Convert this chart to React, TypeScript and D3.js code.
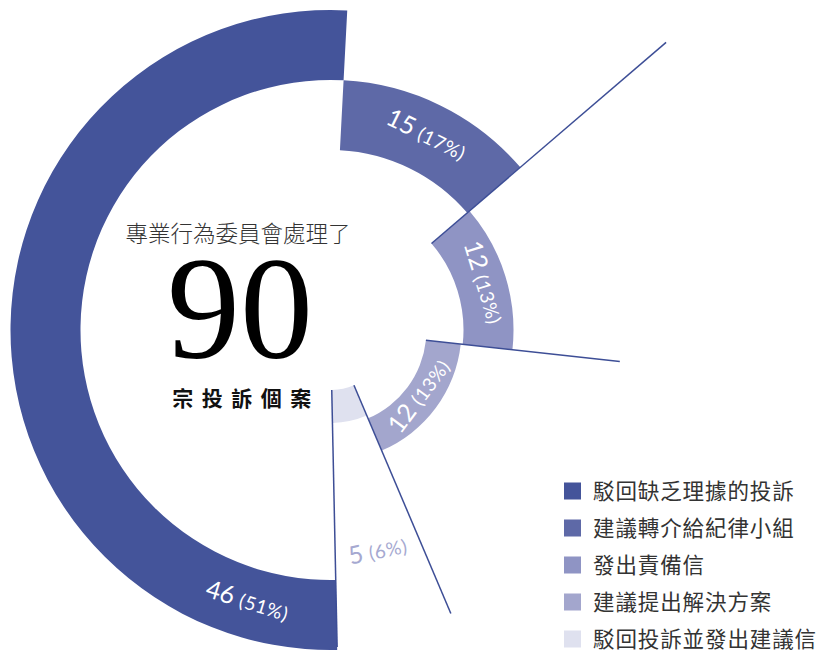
import React from "react";
import * as d3 from "d3";

// ---- data (clockwise from 12 o'clock) ----
const categories = [
  "建議轉介給紀律小組",
  "發出責備信",
  "建議提出解決方案",
  "駁回投訴並發出建議信",
  "駁回缺乏理據的投訴",
];
const counts = [15, 12, 12, 5, 46];
const percents = [17, 13, 13, 6, 51];
// angular sweep of each arc as drawn in the reference (degrees)
const arcSweepDeg = [46.4, 46.8, 60.8, 21.8, 184.2];
const colors = ["#5e69a7", "#8f94c4", "#a3a6cd", "#dfe1ef", "#44549a"];
const legendOrder = [4, 0, 1, 2, 3];
const totalLabel = "90";
const titleTop = "專業行為委員會處理了";
const titleBottom = "宗投訴個案";

// ---- layout ----
const W = 821;
const H = 653;
const CX = 330.5;
const CY = 330;
const START_DEG = 3;
const ringInner = [180, 133, 96, 60, 250];
const ringOuter = [250, 183, 131, 93, 320];
const sepOuter = [442, 291, 308, 317];
const labelFrac = [0.5, 0.5, 0.5, 0.5, 0.099];
const labelRadius = [215, 158, 113, 228, 286];
const labelColors = ["#ffffff", "#ffffff", "#ffffff", "#a6a9d1", "#ffffff"];
const lineColor = "#3d4e96";
const FONT = "Lato, 'Noto Sans', sans-serif";
const CJK = "'Noto Sans CJK TC', 'Noto Sans CJK SC', sans-serif";

export default function App() {
  const rad = Math.PI / 180;
  const pie = d3
    .pie<number>()
    .sort(null)
    .value((d) => d)
    .startAngle(START_DEG * rad)
    .endAngle(START_DEG * rad + 2 * Math.PI);
  const arcs = pie(arcSweepDeg);
  const arcGen = d3.arc<any>();

  const polar = (r: number, a: number) => [r * Math.sin(a), -r * Math.cos(a)];

  return (
    <svg
      width={W}
      height={H}
      style={{ position: "absolute", left: 0, top: 0, background: "#fff" }}
    >
      <g transform={`translate(${CX},${CY})`}>
        {arcs.map((a, i) => (
          <path
            key={i}
            d={
              arcGen({
                innerRadius: ringInner[i],
                outerRadius: ringOuter[i],
                startAngle: a.startAngle,
                endAngle: a.endAngle,
              }) as string
            }
            fill={colors[i]}
          />
        ))}
        {arcs.slice(0, 4).map((a, i) => {
          const r0 = Math.min(ringInner[i], ringInner[i + 1]);
          const [x1, y1] = polar(r0, a.endAngle);
          const [x2, y2] = polar(sepOuter[i], a.endAngle);
          return (
            <line
              key={i}
              x1={x1}
              y1={y1}
              x2={x2}
              y2={y2}
              stroke={lineColor}
              strokeWidth={1.5}
            />
          );
        })}
        {arcs.map((a, i) => {
          const ang = a.startAngle + (a.endAngle - a.startAngle) * labelFrac[i];
          const [x, y] = polar(labelRadius[i], ang);
          let deg = (ang / rad) % 360;
          const rot = deg < 90 || deg >= 270 ? deg : deg - 180;
          return (
            <text
              key={i}
              transform={`translate(${x},${y}) rotate(${rot})`}
              textAnchor="middle"
              dy="0.35em"
              fill={labelColors[i]}
              fontFamily={FONT}
            >
              <tspan fontSize={25}>{counts[i]}</tspan>
              <tspan fontSize={19} dx={6} letterSpacing={0.6}>
                ({percents[i]}%)
              </tspan>
            </text>
          );
        })}
      </g>

      <text
        x={238}
        y={242}
        textAnchor="middle"
        fontFamily={CJK}
        fontSize={22.5}
        fontWeight={300}
        fill="#333"
      >
        {titleTop}
      </text>
      <text
        x={240}
        y={358}
        textAnchor="middle"
        fontFamily="'Liberation Serif', 'DejaVu Serif', serif"
        fontSize={146}
        fill="#000"
      >
        {totalLabel}
      </text>
      <text
        x={246}
        y={406}
        textAnchor="middle"
        fontFamily={CJK}
        fontSize={21}
        fontWeight={700}
        letterSpacing={8.5}
        fill="#111"
      >
        {titleBottom}
      </text>

      <g>
        {legendOrder.map((k, j) => {
          const cy = 491 + j * 37;
          return (
            <g key={k}>
              <rect x={564} y={cy - 8.5} width={17} height={17} fill={colors[k]} />
              <text
                x={593}
                y={cy}
                dy="0.35em"
                fontFamily={CJK}
                fontSize={21.5}
                letterSpacing={0.9}
                fill="#333"
              >
                {categories[k]}
              </text>
            </g>
          );
        })}
      </g>
    </svg>
  );
}
